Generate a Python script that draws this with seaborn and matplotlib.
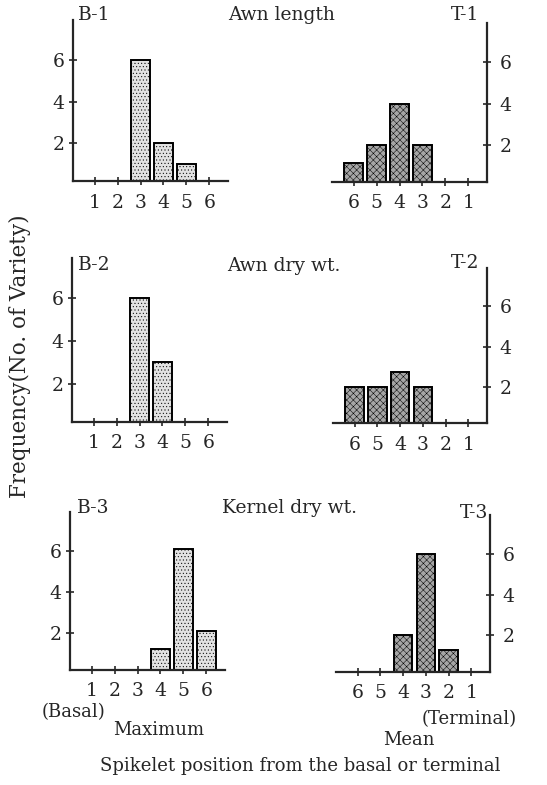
import pandas as pd
import matplotlib
matplotlib.use("Agg")
import matplotlib.pyplot as plt
import seaborn as sns

# spikelet positions (1 = basal / terminal end)
positions = ["1", "2", "3", "4", "5", "6"]

# frequency (no. of variety) by position
b1_awn_length = [0, 0, 6, 2, 1, 0]
t1_awn_length = [0, 0, 2, 4, 2, 1.1]
b2_awn_dry = [0, 0, 6, 3, 0, 0]
t2_awn_dry = [0, 0, 2, 2.75, 2, 2]
b3_kernel_dry = [0, 0, 0, 1.2, 6.1, 2.1]
t3_kernel_dry = [0, 1.3, 6, 2, 0, 0]

titles = ["Awn length", "Awn dry wt.", "Kernel dry wt."]
b_labels = ["B-1", "B-2", "B-3"]
t_labels = ["T-1", "T-2", "T-3"]
y_ticks = [2, 4, 6]

W, H = 547, 785


def rect(left, top, right, bottom):
    return [left / W, 1 - bottom / H, (right - left) / W, (bottom - top) / H]


def draw_panel(fig, box, values, order, color, hatch, side):
    ax = fig.add_axes(box)
    df = pd.DataFrame({"pos": positions, "freq": values})
    sns.barplot(data=df, x="pos", y="freq", order=order, color=color,
                edgecolor="black", linewidth=1.4, width=0.82, saturation=1, ax=ax)
    for bar in ax.patches:
        bar.set_hatch(hatch)
    ax.set_xlim(-0.95, 5.82)
    ax.set_ylim(0.2, 7.9)
    ax.set_yticks(y_ticks)
    ax.set_xlabel("")
    ax.set_ylabel("")
    for s in ["top", "left", "right", "bottom"]:
        ax.spines[s].set_visible(False)
    ax.spines["bottom"].set_visible(True)
    ax.spines["bottom"].set_linewidth(1.6)
    ax.patch.set_alpha(0)
    if side == "left":
        ax.spines["left"].set_visible(True)
        ax.spines["left"].set_linewidth(1.6)
        ax.tick_params(axis="y", left=True, right=False, labelleft=True,
                       labelright=False, direction="inout", length=6, width=1.2, pad=3)
    else:
        ax.spines["right"].set_visible(True)
        ax.spines["right"].set_linewidth(1.6)
        ax.yaxis.tick_right()
        ax.tick_params(axis="y", left=False, right=True, labelleft=False,
                       labelright=True, direction="inout", length=6, width=1.2, pad=6)
    ax.tick_params(axis="x", bottom=True, direction="inout", length=6, width=1.2, pad=6)
    ax.tick_params(labelsize=13.5)
    return ax


sns.set_style("white")
plt.rcParams["font.family"] = ["DejaVu Serif"]
plt.rcParams["hatch.linewidth"] = 0.35

fig = plt.figure(figsize=(5.47, 7.85), dpi=100)

b_order = positions
t_order = positions[::-1]
b_color, b_hatch = "#e2e2e2", "....."
t_color, t_hatch = "#a6a6a6", "xxxxx"

draw_panel(fig, rect(73, 20, 228, 181), b1_awn_length, b_order, b_color, b_hatch, "left")
draw_panel(fig, rect(332, 23, 487, 182), t1_awn_length, t_order, t_color, t_hatch, "right")
draw_panel(fig, rect(72, 258, 227, 422), b2_awn_dry, b_order, b_color, b_hatch, "left")
draw_panel(fig, rect(333, 268, 487, 423), t2_awn_dry, t_order, t_color, t_hatch, "right")
draw_panel(fig, rect(70, 512, 225, 670), b3_kernel_dry, b_order, b_color, b_hatch, "left")
draw_panel(fig, rect(336, 515, 490, 672), t3_kernel_dry, t_order, t_color, t_hatch, "right")


def ftext(x, y, s, **kw):
    fig.text(x / W, 1 - y / H, s, va="center", **kw)


ftext(282, 15, titles[0], ha="center", fontsize=13.5)
ftext(284, 266, titles[1], ha="center", fontsize=13.5)
ftext(289, 508, titles[2], ha="center", fontsize=13.5)

ftext(78, 15, b_labels[0], ha="left", fontsize=13.5)
ftext(78, 265, b_labels[1], ha="left", fontsize=13.5)
ftext(77, 508, b_labels[2], ha="left", fontsize=13.5)
ftext(479, 15, t_labels[0], ha="right", fontsize=13.5)
ftext(479, 263, t_labels[1], ha="right", fontsize=13.5)
ftext(488, 513, t_labels[2], ha="right", fontsize=13.5)

ftext(20, 356, "Frequency(No. of Variety)", ha="center", rotation=90, fontsize=15.5)
ftext(42, 712, "(Basal)", ha="left", fontsize=13)
ftext(113, 730, "Maximum", ha="left", fontsize=13)
ftext(383, 740, "Mean", ha="left", fontsize=13)
ftext(422, 719, "(Terminal)", ha="left", fontsize=13)
ftext(300, 766, "Spikelet position from the basal or terminal", ha="center", fontsize=13)

fig.savefig("out.png", dpi=100)
